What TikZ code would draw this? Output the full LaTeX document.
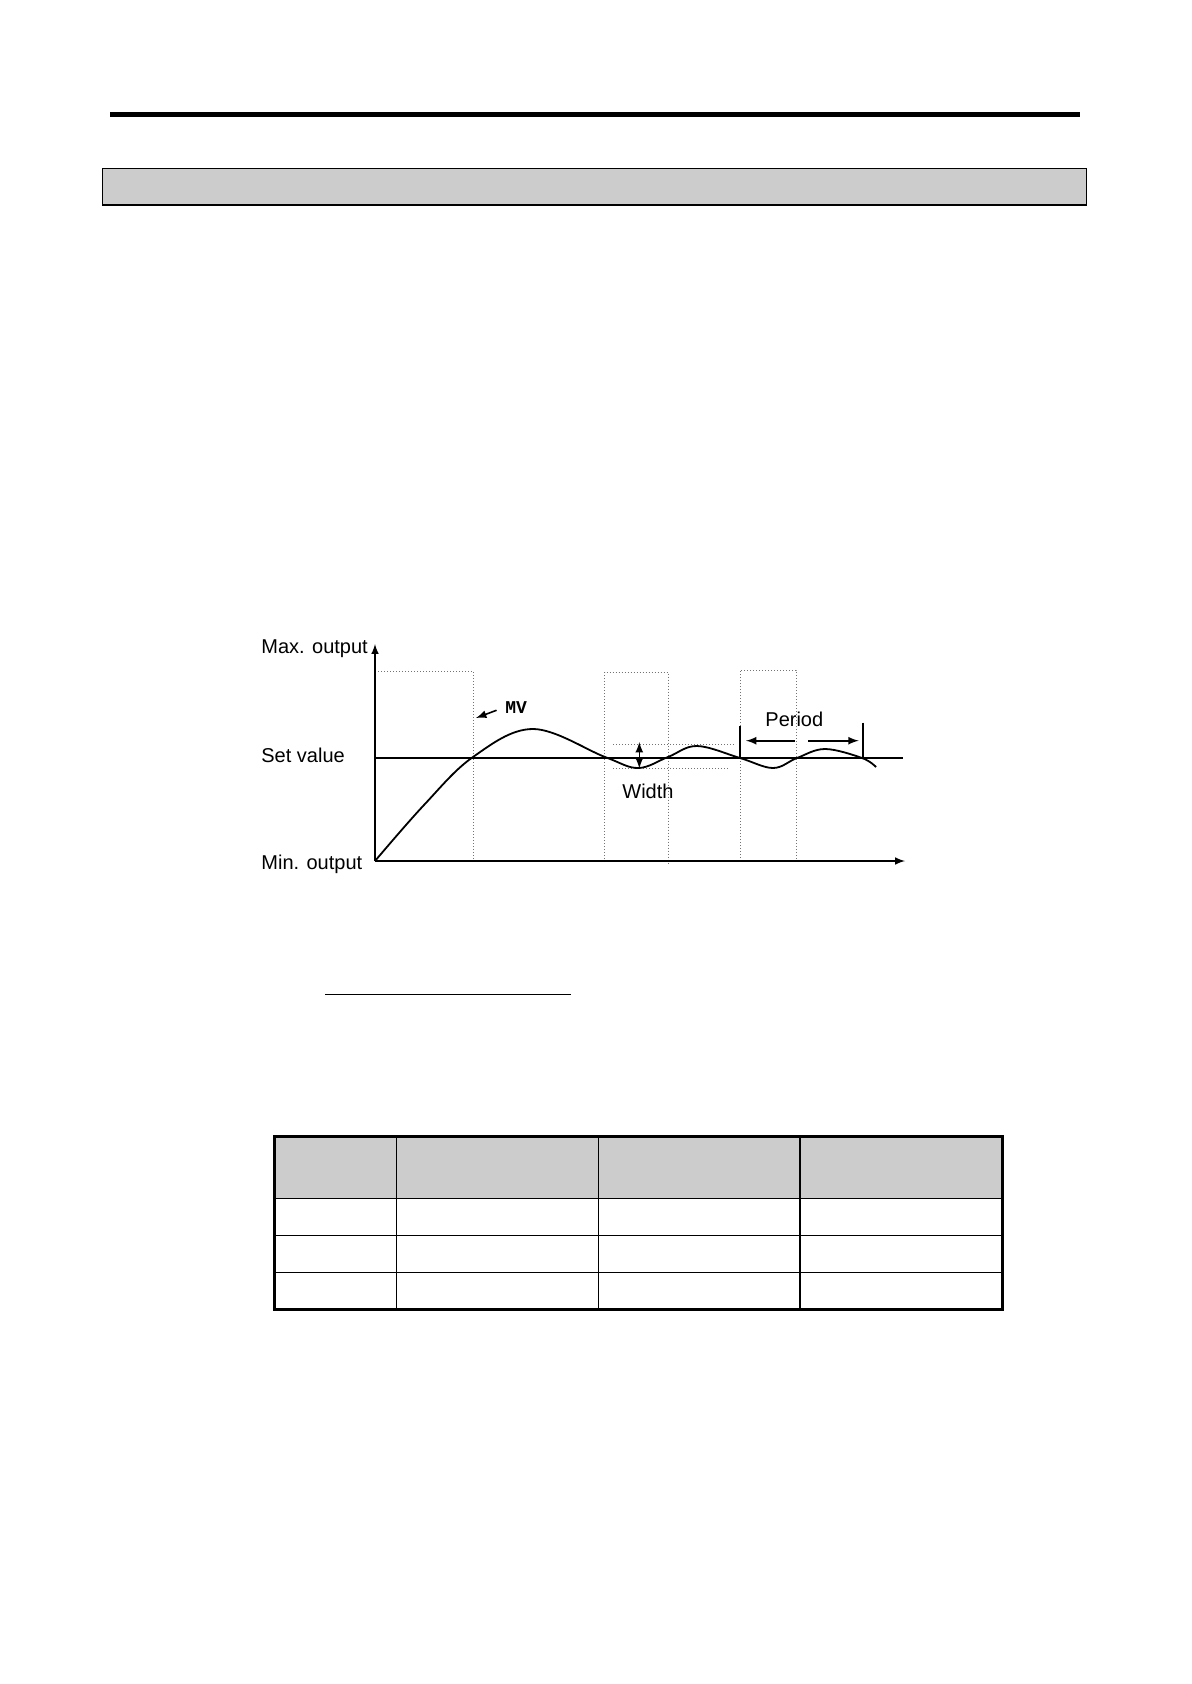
\documentclass[tikz,border=0pt]{standalone}
\usepackage{fontspec}
\setmainfont{Liberation Sans}
\newfontfamily\mvfont{Liberation Mono}
\definecolor{headgray}{HTML}{CCCCCC}

\begin{document}
\begin{tikzpicture}[
    x=0.5pt,
    y=-0.5pt,
    txt/.style={
        font=\fontsize{10}{12}\selectfont,
        inner sep=0pt,
        anchor=base west
    },
    guide/.style={densely dotted, black!55, line width=0.5pt},
    axisline/.style={-latex, line width=0.7pt},
    arrow/.style={-latex, line width=0.8pt},
    rule/.style={line width=0.7pt}
]
\useasboundingbox (0,0) rectangle (1191,1684);

% Page header
\fill (110,112) rectangle (1080,117.5);
\draw[fill=headgray, line width=0.9pt] (102.5,168.5) rectangle (1086.5,205);

% Coordinates
\coordinate (o) at (375,861);
\coordinate (ytop) at (375,644);
\coordinate (xend) at (905,861);
\coordinate (sv) at (375,758);
\coordinate (svend) at (903,758);
\coordinate (mvtip) at (476,718);
\coordinate (wtop) at (639.3,742);
\coordinate (wbot) at (639.3,768.5);
\coordinate (pl) at (740,726);
\coordinate (plb) at (740,758);
\coordinate (pr) at (862.7,722.7);
\coordinate (prb) at (862.7,758);
\coordinate (pmidl) at (795,740.7);
\coordinate (pmidr) at (808.3,740.7);

% Guides
\draw[guide] (375,671) -| (473,861);
\draw[guide] (604.5,862) |- (668,672) -- (668,864);
\draw[guide] (740,861) |- (796,670) -- (796,861);
\draw[guide] (613,744.3) -- (735,744.3);
\draw[guide] (613,768.3) -- (729,768.3);

% Axes
\draw[axisline] (o) -- (ytop);
\draw[axisline] (o) -- (xend);
\draw[line width=0.7pt] (sv) -- (svend);

% Response curve
\draw[line width=0.9pt] plot[smooth, tension=0.6] coordinates {
    (375,861) (424,805) (473,757) (533,729) (605,757) (638,768)
    (668,757) (697,746) (740,758) (773,768) (797,758) (825,749)
    (862,758) (876,767)};

% Nodes
\node[txt] (maxout) at (261,653) {Max. output};
\node[txt] (setval) at (261,762) {Set value};
\node[txt] (minout) at (261,869) {Min. output};
\node[txt, font=\mvfont\bfseries\fontsize{9}{10}\selectfont] (mv) at (505,713) {MV};
\node[txt] (width) at (622,798) {Width};
\node[txt] (period) at (765,726) {Period};

% Arrows
\draw[arrow, shorten <=4.5pt] (mv.west) -- (mvtip);
\draw[latex-latex, line width=0.8pt] (wtop) -- (wbot);
\draw[line width=0.8pt] (pl) -- (plb);
\draw[line width=0.8pt] (pr) -- (prb);
\draw[arrow] (pmidl) -- ([xshift=3pt]pl |- pmidl);
\draw[arrow] (pmidr) -- ([xshift=-2pt]pr |- pmidr);

% Underline
\draw[rule] (325,994.3) -- (570.7,994.3);

% Table
\fill[headgray] (274.7,1136.7) rectangle (1002.5,1198.3);
\foreach \y in {1198.3,1235.3,1272.3}
    \draw[rule] (274.7,\y) -- (1002.5,\y);
\foreach \x in {396.7,598.3,800}
    \draw[rule] (\x,1136.7) -- (\x,1309.7);
\draw[line width=1.6pt] (274.7,1136.7) rectangle (1002.5,1309.7);

\end{tikzpicture}
\end{document}
